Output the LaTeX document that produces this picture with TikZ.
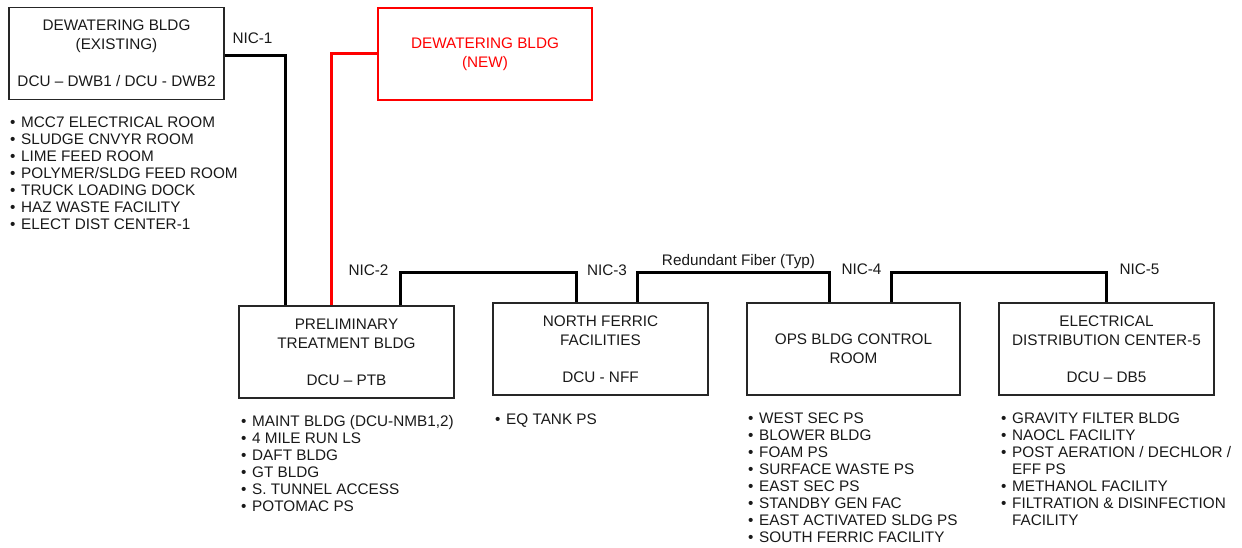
\documentclass[tikz,border=0pt]{standalone}
\usepackage{fontspec}
\setmainfont{Liberation Sans}
\usetikzlibrary{calc}
\newcommand{\bitem}[1]{\makebox[11pt][l]{•}#1}
\newcommand{\bcont}[1]{\hspace*{11pt}#1}
\begin{document}
\begin{tikzpicture}[x=1pt,y=-1pt,
  box/.style={draw=black!85, line width=1.4pt, minimum width=215pt, minimum height=92pt, inner sep=0pt, align=center, font=\fontsize{15.3}{19}\selectfont, text=black!90},
  newbox/.style={box, draw=red, text=red},
  conn/.style={line width=3pt, draw=black},
  redconn/.style={line width=3pt, draw=red},
  lbl/.style={font=\fontsize{15.3}{17}\selectfont, anchor=base, inner sep=0pt, text=black!90},
  list/.style={font=\fontsize{15.3}{17}\selectfont, align=left, anchor=north west, inner sep=0pt, text=black!90}]
\useasboundingbox (0,0) rectangle (1242,548);

% boxes
\node[box] (e1) at (116.5,53.5) {DEWATERING BLDG\\(EXISTING)\\[18pt]DCU – DWB1 / DCU - DWB2};
\node[newbox, minimum width=214pt] (n1) at (485,54) {DEWATERING BLDG\\(NEW)};
\node[box] (ptb) at (346.5,352) {PRELIMINARY\\TREATMENT BLDG\\[18pt]DCU – PTB};
\node[box] (nff) at (600.5,349) {NORTH FERRIC\\FACILITIES\\[18pt]DCU - NFF};
\node[box, minimum width=213pt] (ops) at (853.5,349) {OPS BLDG CONTROL\\ROOM};
\node[box] (db5) at (1106.5,349) {ELECTRICAL\\DISTRIBUTION CENTER-5\\[18pt]DCU – DB5};

% connectors
\coordinate (bus) at (0,272);
\coordinate (p1) at ([xshift=47pt]ptb.north west);
\coordinate (pr) at ([xshift=93pt]ptb.north west);
\coordinate (p2) at ([xshift=162pt]ptb.north west);
\coordinate (q3) at ([xshift=84pt]nff.north west);
\coordinate (p3) at ([xshift=145pt]nff.north west);
\coordinate (q4) at ([xshift=83pt]ops.north west);
\coordinate (p4) at ([xshift=145pt]ops.north west);
\coordinate (q5) at ([xshift=108pt]db5.north west);
\draw[conn] ([yshift=-2.5pt]e1.east) -| (p1);
\draw[redconn] (n1.west) -| (pr);
\draw[conn] (p2) -- (p2 |- bus) -| (q3);
\draw[conn] (p3) -- (p3 |- bus) -| (q4);
\draw[conn] (p4) -- (p4 |- bus) -| (q5);

% labels
\node[lbl] (nic1) at (252.5,44) {NIC-1};
\node[lbl] (nic2) at (368.5,275) {NIC-2};
\node[lbl] (nic3) at (607,275) {NIC-3};
\node[lbl] (nic4) at (861.5,274) {NIC-4};
\node[lbl] (nic5) at (1139.5,274) {NIC-5};
\node[lbl] (rf) at (738.5,265) {Redundant Fiber (Typ)};

% lists
\node[list] (l1) at (10,116.5) {\bitem{MCC7 ELECTRICAL ROOM}\\\bitem{SLUDGE CNVYR ROOM}\\\bitem{LIME FEED ROOM}\\\bitem{POLYMER/SLDG FEED ROOM}\\\bitem{TRUCK LOADING DOCK}\\\bitem{HAZ WASTE FACILITY}\\\bitem{ELECT DIST CENTER-1}};
\node[list] (l2) at (241,415.5) {\bitem{MAINT BLDG (DCU-NMB1,2)}\\\bitem{4 MILE RUN LS}\\\bitem{DAFT BLDG}\\\bitem{GT BLDG}\\\bitem{S. TUNNEL ACCESS}\\\bitem{POTOMAC PS}};
\node[list] (l3) at (495,413.5) {\bitem{EQ TANK PS}};
\node[list] (l4) at (748,412.5) {\bitem{WEST SEC PS}\\\bitem{BLOWER BLDG}\\\bitem{FOAM PS}\\\bitem{SURFACE WASTE PS}\\\bitem{EAST SEC PS}\\\bitem{STANDBY GEN FAC}\\\bitem{EAST ACTIVATED SLDG PS}\\\bitem{SOUTH FERRIC FACILITY}};
\node[list] (l5) at (1001,412.5) {\bitem{GRAVITY FILTER BLDG}\\\bitem{NAOCL FACILITY}\\\bitem{POST AERATION / DECHLOR /}\\\bcont{EFF PS}\\\bitem{METHANOL FACILITY}\\\bitem{FILTRATION \& DISINFECTION}\\\bcont{FACILITY}};
\end{tikzpicture}
\end{document}
